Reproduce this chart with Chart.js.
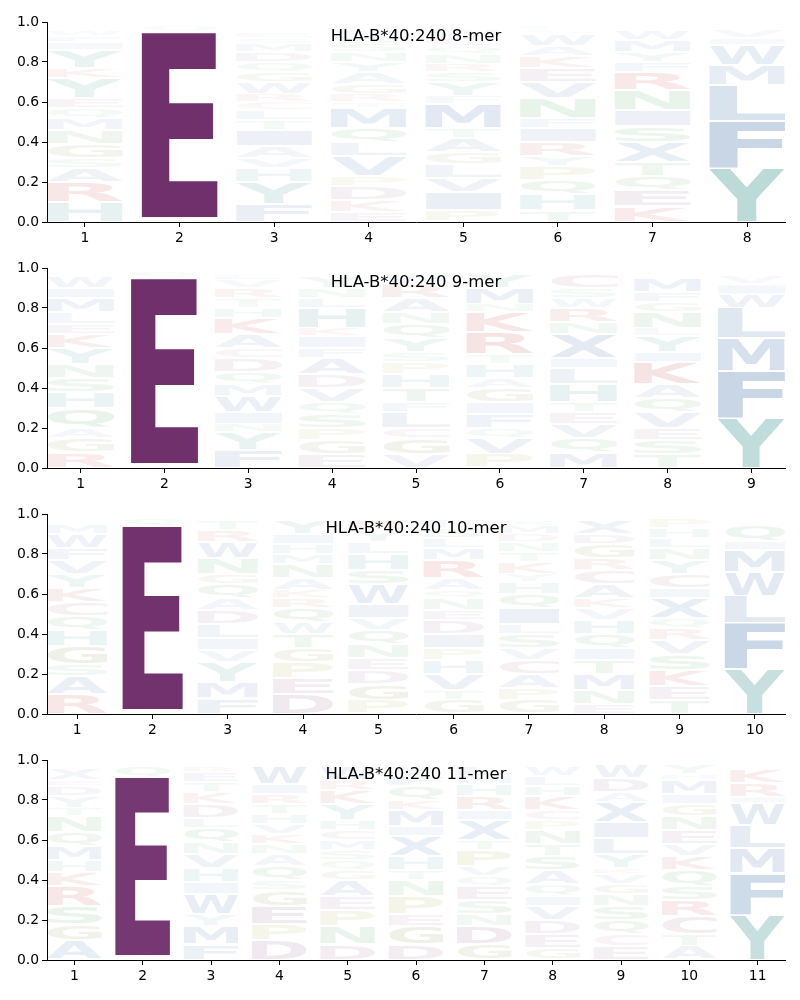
<!DOCTYPE html>
<html>
<head>
<meta charset="utf-8">
<script src="https://cdn.jsdelivr.net/npm/chart.js@4.4.1/dist/chart.umd.min.js"></script>
<style>
    body { margin: 0; background: #fff; }
    #wrap { position: relative; width: 800px; height: 1000px; }
    #wrap canvas { position: absolute; left: 0; }
</style>
</head>
<body>
<div id="wrap">
    <canvas id="logo8" width="800" height="246" style="top:0px"></canvas>
    <canvas id="logo9" width="800" height="246" style="top:246px"></canvas>
    <canvas id="logo10" width="800" height="246" style="top:492px"></canvas>
    <canvas id="logo11" width="800" height="246" style="top:738px"></canvas>
</div>
<script>
// letters per position are listed bottom to top, heights are the matching frequencies
const yTicks = [0, 0.2, 0.4, 0.6, 0.8, 1.0];

const titles = ["HLA-B*40:240 8-mer", "HLA-B*40:240 9-mer", "HLA-B*40:240 10-mer", "HLA-B*40:240 11-mer"];

const positions8 = [1, 2, 3, 4, 5, 6, 7, 8];
const letters8 = ["HRASGNMQEYKYIFW", "DEQ", "FYHVAITLCRWGQDMSE", "EKDPVLQMTRGAYNSWF",
    "PIVLGATMFYSRNQCW", "THQPYRIFNVEKAWSL", "KEQTXSINRFYMW", "YFLMWIV"];
const heights8 = [
    [0.1, 0.1, 0.07, 0.05, 0.07, 0.07, 0.06, 0.05, 0.05, 0.1, 0.05, 0.09, 0.04, 0.03, 0.03],
    [0.02, 0.93, 0.03],
    [0.09, 0.11, 0.07, 0.05, 0.06, 0.08, 0.05, 0.05, 0.04, 0.04, 0.06, 0.05, 0.05, 0.05, 0.04, 0.03, 0.03],
    [0.05, 0.06, 0.07, 0.05, 0.1, 0.07, 0.07, 0.1, 0.03, 0.04, 0.05, 0.06, 0.05, 0.05, 0.04, 0.04, 0.03],
    [0.06, 0.09, 0.07, 0.07, 0.06, 0.07, 0.05, 0.12, 0.04, 0.07, 0.05, 0.04, 0.05, 0.04, 0.04, 0.04],
    [0.06, 0.08, 0.07, 0.07, 0.05, 0.07, 0.07, 0.05, 0.1, 0.08, 0.07, 0.06, 0.05, 0.06, 0.02, 0.02],
    [0.08, 0.08, 0.07, 0.07, 0.1, 0.08, 0.08, 0.1, 0.09, 0.05, 0.05, 0.06, 0.05],
    [0.27, 0.235, 0.18, 0.1, 0.1, 0.035, 0.04]
];

const positions9 = [1, 2, 3, 4, 5, 6, 7, 8, 9];
const letters9 = ["RGAQHSNYKELMIW", "DEQ", "FYNIWMQDCAKHTRVL", "EGPSQVDAFIKHLNY", "VGCLFTHPSYQNARW",
    "PVQFIGAHTRKNMY", "MQVETHLIXNRWSC", "TSEVQAKIYLNGFM", "YFMLWIV"];
const heights9 = [
    [0.08, 0.07, 0.05, 0.1, 0.08, 0.07, 0.07, 0.08, 0.07, 0.05, 0.06, 0.07, 0.05, 0.06],
    [0.02, 0.93, 0.03],
    [0.09, 0.09, 0.04, 0.06, 0.08, 0.06, 0.06, 0.07, 0.05, 0.07, 0.08, 0.05, 0.05, 0.05, 0.04, 0.03],
    [0.07, 0.07, 0.06, 0.07, 0.06, 0.07, 0.07, 0.08, 0.05, 0.06, 0.04, 0.1, 0.05, 0.05, 0.06],
    [0.07, 0.08, 0.05, 0.08, 0.05, 0.07, 0.07, 0.06, 0.05, 0.07, 0.07, 0.06, 0.07, 0.07, 0.05],
    [0.07, 0.08, 0.05, 0.07, 0.06, 0.07, 0.05, 0.07, 0.05, 0.11, 0.1, 0.04, 0.08, 0.07],
    [0.08, 0.07, 0.07, 0.06, 0.05, 0.09, 0.08, 0.05, 0.12, 0.06, 0.07, 0.05, 0.05, 0.07],
    [0.07, 0.07, 0.06, 0.08, 0.07, 0.07, 0.11, 0.05, 0.08, 0.04, 0.08, 0.05, 0.05, 0.07],
    [0.25, 0.235, 0.165, 0.15, 0.068, 0.05, 0.04]
];

const positions10 = [1, 2, 3, 4, 5, 6, 7, 8, 9, 10];
const letters10 = ["RASGHQCKYVFWM", "DEQ", "FMYVILDAQGNWRT", "DEPGTWQRKANMHIY", "PGDENQVIWSHLYR",
    "GTVHPIDENQARMLSF", "GPACVSLIQHYKTNDMX", "ENMTIQHVKACRGDX", "TEKSVRQXICYNLHP", "YFLWMIQ"];
const heights10 = [
    [0.1, 0.09, 0.06, 0.09, 0.08, 0.07, 0.07, 0.07, 0.07, 0.07, 0.06, 0.07, 0.05],
    [0.02, 0.92, 0.04],
    [0.08, 0.08, 0.1, 0.06, 0.06, 0.07, 0.07, 0.06, 0.07, 0.05, 0.08, 0.08, 0.06, 0.05],
    [0.1, 0.08, 0.08, 0.07, 0.07, 0.06, 0.07, 0.05, 0.04, 0.06, 0.07, 0.05, 0.05, 0.05, 0.07],
    [0.07, 0.08, 0.07, 0.06, 0.07, 0.07, 0.06, 0.07, 0.1, 0.07, 0.08, 0.06, 0.06, 0.05],
    [0.07, 0.05, 0.08, 0.07, 0.06, 0.07, 0.07, 0.05, 0.06, 0.04, 0.06, 0.09, 0.06, 0.05, 0.05, 0.04],
    [0.07, 0.06, 0.07, 0.07, 0.06, 0.07, 0.05, 0.08, 0.07, 0.06, 0.04, 0.06, 0.05, 0.05, 0.04, 0.04, 0.03],
    [0.05, 0.07, 0.08, 0.07, 0.06, 0.07, 0.07, 0.06, 0.05, 0.07, 0.07, 0.06, 0.07, 0.05, 0.07],
    [0.07, 0.07, 0.08, 0.08, 0.07, 0.06, 0.05, 0.1, 0.05, 0.07, 0.07, 0.06, 0.05, 0.05, 0.05],
    [0.225, 0.228, 0.137, 0.122, 0.108, 0.045, 0.08]
];

const positions11 = [1, 2, 3, 4, 5, 6, 7, 8, 9, 10, 11];
const letters11 = ["AGSRKHMQNTYDEX", "DEQ", "FMYWIHVNQLDKTER", "DPEGSQANKVHTRIW", "DNPEAGQSMCHYKRW",
    "DGEPNTHXIMKQFY", "GDNSEQVPTXIRHML", "GEDVIQASTNPCKHLW", "ECQSNGVKYLIXADW", "ATCRSQKVENGIMHY", "YFMLWIRK"];
const heights11 = [
    [0.1, 0.08, 0.09, 0.1, 0.07, 0.06, 0.07, 0.07, 0.08, 0.04, 0.06, 0.05, 0.03, 0.06],
    [0.022, 0.893, 0.055],
    [0.08, 0.09, 0.06, 0.1, 0.06, 0.07, 0.07, 0.06, 0.07, 0.05, 0.07, 0.06, 0.05, 0.05, 0.03],
    [0.1, 0.08, 0.09, 0.08, 0.05, 0.07, 0.06, 0.05, 0.05, 0.05, 0.05, 0.05, 0.05, 0.05, 0.09],
    [0.08, 0.09, 0.08, 0.07, 0.08, 0.05, 0.05, 0.05, 0.05, 0.05, 0.05, 0.08, 0.07, 0.05, 0.07],
    [0.08, 0.09, 0.06, 0.09, 0.08, 0.05, 0.07, 0.1, 0.05, 0.08, 0.05, 0.07, 0.05, 0.05],
    [0.08, 0.09, 0.06, 0.07, 0.07, 0.05, 0.05, 0.08, 0.05, 0.1, 0.05, 0.07, 0.06, 0.04, 0.05],
    [0.06, 0.07, 0.07, 0.07, 0.05, 0.06, 0.07, 0.07, 0.06, 0.07, 0.05, 0.05, 0.07, 0.05, 0.05, 0.05],
    [0.07, 0.06, 0.07, 0.07, 0.06, 0.05, 0.05, 0.03, 0.07, 0.08, 0.08, 0.1, 0.05, 0.07, 0.07],
    [0.07, 0.06, 0.09, 0.08, 0.07, 0.08, 0.07, 0.06, 0.07, 0.07, 0.06, 0.05, 0.07, 0.03, 0.05],
    [0.225, 0.208, 0.125, 0.116, 0.108, 0.035, 0.07, 0.07]
];

// base colour of each residue, faded by its frequency
const letterColors = {
    A: [42, 95, 159], C: [154, 58, 90], D: [112, 48, 108], E: [112, 48, 108],
    F: [36, 92, 156], G: [90, 106, 16], H: [26, 122, 132], I: [42, 95, 159],
    K: [180, 24, 24], L: [58, 107, 168], M: [31, 85, 156], N: [36, 138, 58],
    P: [138, 138, 16], Q: [36, 138, 58], R: [180, 24, 24], S: [36, 138, 58],
    T: [36, 138, 58], V: [42, 95, 159], W: [31, 85, 156], X: [42, 95, 159],
    Y: [24, 128, 122]
};

const allHeights = [heights8, heights9, heights10, heights11];
const maxHeight = Math.max(...allHeights.flat(2));

const glyphFont = 'bold 100px "DejaVu Sans"';
const glyphBoxes = {};

function glyphBox(ctx, ch) {
    if (!glyphBoxes[ch]) {
        ctx.save();
        ctx.font = glyphFont;
        const m = ctx.measureText(ch);
        glyphBoxes[ch] = {
            left: m.actualBoundingBoxLeft,
            width: m.actualBoundingBoxLeft + m.actualBoundingBoxRight,
            ascent: m.actualBoundingBoxAscent,
            height: m.actualBoundingBoxAscent + m.actualBoundingBoxDescent
        };
        ctx.restore();
    }
    return glyphBoxes[ch];
}

const logoPlugin = {
    id: 'logo',
    afterDatasetsDraw(chart) {
        const ctx = chart.ctx;
        const xScale = chart.scales.x;
        chart.data.datasets.forEach((ds, d) => {
            const meta = chart.getDatasetMeta(d);
            meta.data.forEach((bar, i) => {
                const ch = ds.letters[i];
                const h = ds.data[i].y;
                if (!ch || !h) return;
                const props = bar.getProps(['y', 'base'], true);
                const x0 = xScale.getPixelForValue(ds.data[i].x - 0.4);
                const x1 = xScale.getPixelForValue(ds.data[i].x + 0.4);
                const yTop = props.y + 1;
                const yBot = props.base - 1;
                if (yBot - yTop <= 0) return;
                const box = glyphBox(ctx, ch);
                const sx = (x1 - x0) / box.width;
                const sy = (yBot - yTop) / box.height;
                const c = letterColors[ch];
                const alpha = Math.min(1, h / maxHeight);
                ctx.save();
                ctx.font = glyphFont;
                ctx.textAlign = 'left';
                ctx.textBaseline = 'alphabetic';
                ctx.fillStyle = `rgba(${c[0]},${c[1]},${c[2]},${alpha})`;
                ctx.translate(x0 + box.left * sx, yTop + box.ascent * sy);
                ctx.scale(sx, sy);
                ctx.fillText(ch, 0, 0);
                ctx.restore();
            });
        });
    },
    afterDraw(chart, args, opts) {
        const ctx = chart.ctx;
        const area = chart.chartArea;
        ctx.save();
        ctx.font = '16.5px "DejaVu Sans"';
        ctx.fillStyle = '#000';
        ctx.textAlign = 'center';
        ctx.textBaseline = 'top';
        ctx.fillText(opts.text, (area.left + area.right) / 2, area.top + 6);
        ctx.restore();
    }
};

function makeLogo(canvasId, title, positions, letters, heights) {
    const maxLen = Math.max(...letters.map((s) => s.length));
    const datasets = [];

    for (let r = 0; r < maxLen; r++) {
        datasets.push({
            data: positions.map((p, i) => ({ x: p, y: heights[i][r] || 0 })),
            letters: positions.map((p, i) => letters[i][r] || ''),
            backgroundColor: 'rgba(0,0,0,0)',
            borderWidth: 0,
            categoryPercentage: 1,
            barPercentage: 0.8
        });
    }

    const tickFont = { family: 'DejaVu Sans', size: 13.9 };

    new Chart(document.getElementById(canvasId), {
        type: 'bar',
        data: { datasets: datasets },
        options: {
            responsive: false,
            animation: false,
            devicePixelRatio: 1,
            layout: { padding: { top: 22, right: 15, left: 0, bottom: 0 } },
            plugins: {
                legend: { display: false },
                tooltip: { enabled: false },
                logo: { text: title }
            },
            scales: {
                x: {
                    type: 'linear',
                    stacked: true,
                    offset: false,
                    min: positions[0] - 0.4,
                    max: positions[positions.length - 1] + 0.4,
                    afterBuildTicks: (s) => { s.ticks = positions.map((v) => ({ value: v })); },
                    afterFit: (s) => { s.height = 24; },
                    ticks: { font: tickFont, color: '#000', padding: 3, callback: (v) => String(v) },
                    grid: { offset: false, drawOnChartArea: false, drawTicks: true, tickLength: 5, color: '#000' },
                    border: { display: true, color: '#000', width: 1 }
                },
                y: {
                    stacked: true,
                    min: 0,
                    max: 1,
                    afterBuildTicks: (s) => { s.ticks = yTicks.map((v) => ({ value: v })); },
                    afterFit: (s) => { s.width = 47; },
                    ticks: { font: tickFont, color: '#000', padding: 3, callback: (v) => v.toFixed(1) },
                    grid: { drawOnChartArea: false, drawTicks: true, tickLength: 5, color: '#000' },
                    border: { display: true, color: '#000', width: 1 }
                }
            }
        },
        plugins: [logoPlugin]
    });
}

makeLogo('logo8', titles[0], positions8, letters8, heights8);
makeLogo('logo9', titles[1], positions9, letters9, heights9);
makeLogo('logo10', titles[2], positions10, letters10, heights10);
makeLogo('logo11', titles[3], positions11, letters11, heights11);
</script>
</body>
</html>
